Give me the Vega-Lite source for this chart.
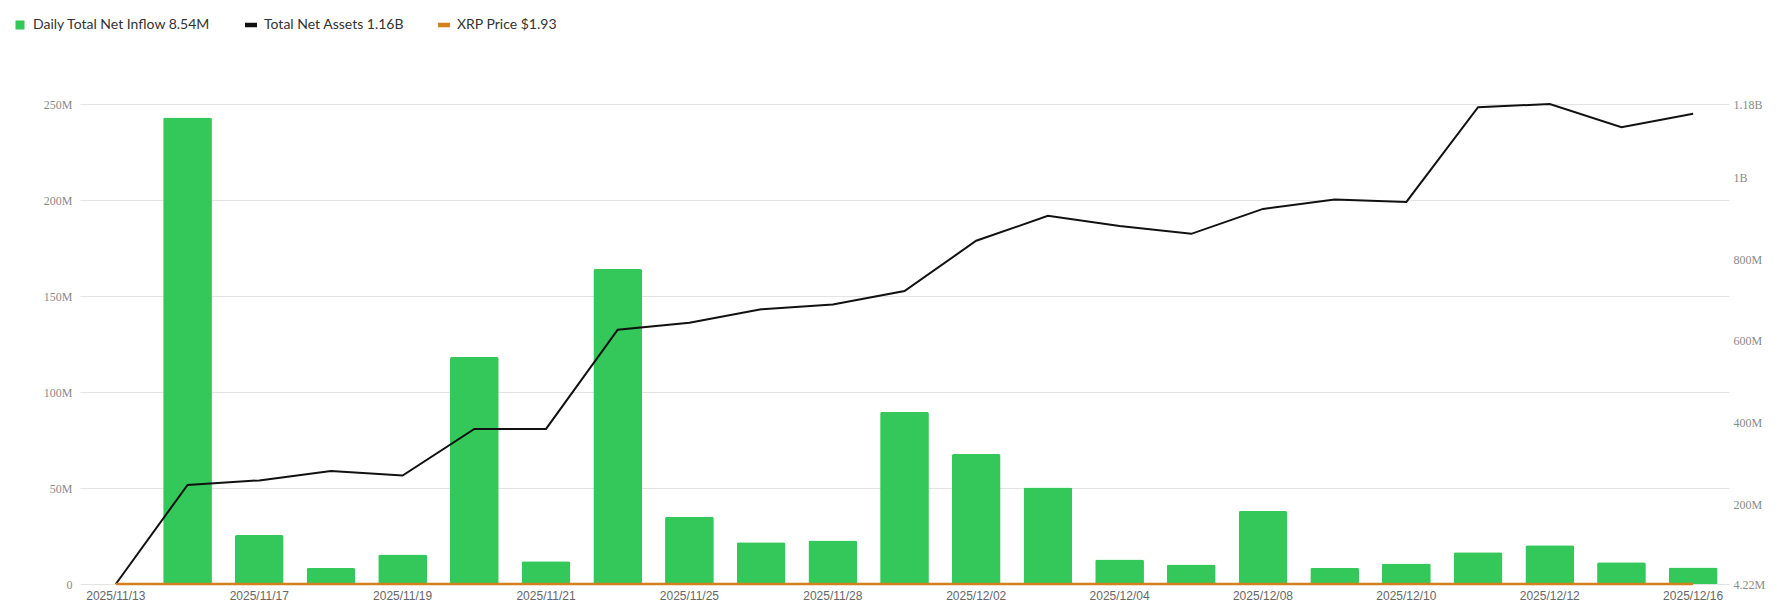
{
  "$schema": "https://vega.github.io/schema/vega-lite/v6.json",
  "width": 1649,
  "height": 480,
  "autosize": {"type": "none"},
  "padding": {"left": 80, "top": 104, "right": 58, "bottom": 24},
  "background": "#ffffff",
  "config": {
    "view": {"stroke": null},
    "axis": {"labelFont": "Liberation Serif", "labelFontSize": 12, "labelColor": "#8a8a8a", "domain": false, "ticks": false, "title": null},
    "legend": {"labelFont": "Lato", "labelFontSize": 14, "labelColor": "#333333", "labelLimit": 0}
  },
  "data": {
    "values": [
      {"date": "2025/11/13", "inflow": 0, "assets": 4.22, "price": 2.37},
      {"date": "2025/11/14", "inflow": 243.0, "assets": 247, "price": 2.25},
      {"date": "2025/11/17", "inflow": 25.5, "assets": 258, "price": 2.15},
      {"date": "2025/11/18", "inflow": 8.3, "assets": 281, "price": 2.2},
      {"date": "2025/11/19", "inflow": 15.4, "assets": 270, "price": 2.15},
      {"date": "2025/11/20", "inflow": 118.2, "assets": 384, "price": 2.0},
      {"date": "2025/11/21", "inflow": 11.9, "assets": 384, "price": 1.95},
      {"date": "2025/11/24", "inflow": 164.0, "assets": 627, "price": 2.2},
      {"date": "2025/11/25", "inflow": 35.0, "assets": 644, "price": 2.2},
      {"date": "2025/11/26", "inflow": 21.8, "assets": 677, "price": 2.2},
      {"date": "2025/11/28", "inflow": 22.6, "assets": 689, "price": 2.2},
      {"date": "2025/12/01", "inflow": 89.7, "assets": 722, "price": 2.05},
      {"date": "2025/12/02", "inflow": 67.7, "assets": 845, "price": 2.15},
      {"date": "2025/12/03", "inflow": 50.3, "assets": 906, "price": 2.2},
      {"date": "2025/12/04", "inflow": 12.8, "assets": 881, "price": 2.1},
      {"date": "2025/12/05", "inflow": 10.2, "assets": 862, "price": 2.05},
      {"date": "2025/12/08", "inflow": 38.0, "assets": 923, "price": 2.1},
      {"date": "2025/12/09", "inflow": 8.5, "assets": 946, "price": 2.05},
      {"date": "2025/12/10", "inflow": 10.7, "assets": 940, "price": 2.05},
      {"date": "2025/12/11", "inflow": 16.6, "assets": 1172, "price": 2.0},
      {"date": "2025/12/12", "inflow": 20.2, "assets": 1180, "price": 2.0},
      {"date": "2025/12/15", "inflow": 11.3, "assets": 1123, "price": 1.95},
      {"date": "2025/12/16", "inflow": 8.54, "assets": 1156, "price": 1.93}
    ]
  },
  "encoding": {
    "x": {
      "field": "date", "type": "ordinal", "sort": null,
      "scale": {"paddingInner": 0.32, "paddingOuter": 0.16},
      "axis": {
        "labelAngle": 0, "labelFont": "Liberation Sans", "labelFontSize": 12, "labelColor": "#666666", "labelPadding": 6,
        "values": ["2025/11/13", "2025/11/17", "2025/11/19", "2025/11/21", "2025/11/25", "2025/11/28", "2025/12/02", "2025/12/04", "2025/12/08", "2025/12/10", "2025/12/12", "2025/12/16"]
      }
    }
  },
  "layer": [
    {
      "mark": {"type": "bar", "cornerRadiusTopLeft": 2, "cornerRadiusTopRight": 2},
      "encoding": {
        "y": {
          "field": "inflow", "type": "quantitative",
          "scale": {"domain": [0, 250], "nice": false, "zero": true},
          "axis": {"orient": "left", "grid": true, "gridColor": "#e3e3e3", "values": [0, 50, 100, 150, 200, 250], "labelPadding": 8,
                   "labelExpr": "datum.value == 0 ? '0' : datum.value + 'M'"}
        },
        "color": {
          "datum": "Daily Total Net Inflow 8.54M", "type": "nominal",
          "scale": {"domain": ["Daily Total Net Inflow 8.54M", "Total Net Assets 1.16B", "XRP Price $1.93"], "range": ["#34c759", "#111111", "#d4801c"]},
          "legend": {
            "title": null, "orient": "none", "direction": "horizontal", "legendX": -67, "legendY": -86,
            "columnPadding": 31, "symbolOffset": 0, "labelOffset": 6, "symbolSize": 64, "symbolType": "square", "labelLimit": 0,
            "encode": {
              "symbols": {"update": {
                "shape": {"signal": "datum.value == 'Daily Total Net Inflow 8.54M' ? 'square' : 'M-1,-0.28H1V0.28H-1Z'"},
                "size": {"signal": "datum.value == 'Daily Total Net Inflow 8.54M' ? 56 : 110"},
                "fill": {"signal": "scale('color', datum.value)"},
                "stroke": {"value": "transparent"},
                "opacity": {"value": 1}
              }}
            }
          }
        }
      }
    },
    {
      "mark": {"type": "line", "strokeWidth": 2, "interpolate": "linear"},
      "encoding": {
        "y": {
          "field": "assets", "type": "quantitative",
          "scale": {"domain": [4.22, 1180], "nice": false, "zero": false},
          "axis": {"orient": "right", "grid": false, "values": [4.22, 200, 400, 600, 800, 1000, 1180], "labelPadding": 4,
                   "labelExpr": "datum.value >= 1000 ? (datum.value / 1000) + 'B' : datum.value + 'M'"}
        },
        "color": {"datum": "Total Net Assets 1.16B", "type": "nominal"}
      }
    },
    {
      "mark": {"type": "line", "strokeWidth": 2.5},
      "encoding": {
        "y": {"field": "price", "type": "quantitative", "scale": {"domain": [0, 250000000], "nice": false}, "axis": null},
        "color": {"datum": "XRP Price $1.93", "type": "nominal"}
      }
    }
  ],
  "resolve": {"scale": {"y": "independent"}}
}
